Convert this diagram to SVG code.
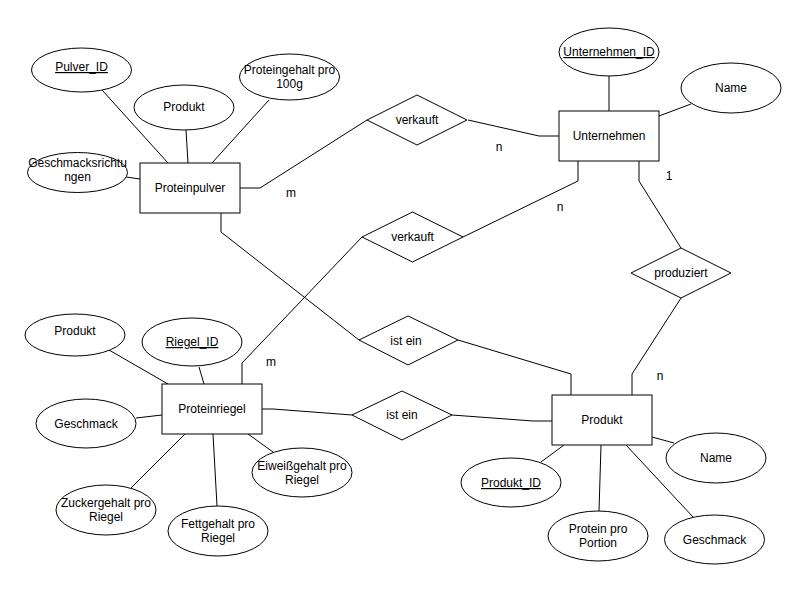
<svg xmlns="http://www.w3.org/2000/svg" width="807" height="591" viewBox="0 0 807 591">
<style>
.e{fill:#fff;stroke:#000;stroke-width:1}
.r{fill:#fff;stroke:#000;stroke-width:1}
.c{fill:none;stroke:#000;stroke-width:1}
text{font-family:"Liberation Sans",Arial,Helvetica,sans-serif;font-size:12px;fill:#000;text-anchor:middle}
.u{text-decoration:underline}
</style>
<rect width="807" height="591" fill="#fff"/>
<g id="connectors">
<path class="c" d="M102 90L168 163"/>
<path class="c" d="M186 130L188 163"/>
<path class="c" d="M269 100L212 163"/>
<path class="c" d="M126 177L140 179"/>
<path class="c" d="M240 188H260L367 120"/>
<path class="c" d="M468 120L539 136H559"/>
<path class="c" d="M609 76V111"/>
<path class="c" d="M691 104L659 116"/>
<path class="c" d="M578 161V181L463 237"/>
<path class="c" d="M639 161V181L681 248"/>
<path class="c" d="M362 237L242 363V384"/>
<path class="c" d="M221 213V232L359 340"/>
<path class="c" d="M458 340L571 374V395"/>
<path class="c" d="M681 298L632 374V395"/>
<path class="c" d="M262 409H273L352 415"/>
<path class="c" d="M452 415L533 421H552"/>
<path class="c" d="M109 350L168 384"/>
<path class="c" d="M199 367L204 384"/>
<path class="c" d="M136 418L162 415"/>
<path class="c" d="M131 488L185 434"/>
<path class="c" d="M217 506L213 434"/>
<path class="c" d="M273 452L248 434"/>
<path class="c" d="M541 462L564 445"/>
<path class="c" d="M599 511L601 445"/>
<path class="c" d="M693 517L626 445"/>
<path class="c" d="M674 443L652 437"/>
</g>
<g id="labels">
<text x="291" y="197">m</text>
<text x="499" y="151">n</text>
<text x="669" y="180">1</text>
<text x="560" y="211">n</text>
<text x="271" y="366">m</text>
<text x="660" y="380">n</text>
</g>
<g id="Proteinpulver"><rect class="r" x="140" y="163" width="100" height="50"/><text x="190" y="192">Proteinpulver</text></g>
<g id="Pulver_ID"><ellipse class="e" cx="81.5" cy="70" rx="50" ry="22"/><text class="u" x="81.5" y="71">Pulver_ID</text></g>
<g id="Pulver_Produkt"><ellipse class="e" cx="184" cy="107.5" rx="50" ry="22.5"/><text x="184" y="111">Produkt</text></g>
<g id="Proteingehalt"><ellipse class="e" cx="289.5" cy="77" rx="50" ry="23"/><text x="289.5" y="74">Proteingehalt pro</text><text x="289.5" y="88">100g</text></g>
<g id="Geschmacksrichtungen"><ellipse class="e" cx="77.5" cy="172.5" rx="50" ry="20"/><text x="77.5" y="167">Geschmacksrichtu</text><text x="77.5" y="181">ngen</text></g>
<g id="Unternehmen"><rect class="r" x="559" y="111" width="100" height="50"/><text x="609" y="140">Unternehmen</text></g>
<g id="Unternehmen_ID"><ellipse class="e" cx="609" cy="52" rx="50" ry="24"/><text class="u" x="609" y="56">Unternehmen_ID</text></g>
<g id="Unternehmen_Name"><ellipse class="e" cx="731" cy="88" rx="50" ry="25"/><text x="731" y="92">Name</text></g>
<g id="verkauft1"><path class="r" d="M367 120L417 95L467 120L417 145Z"/><text x="417" y="124">verkauft</text></g>
<g id="verkauft2"><path class="r" d="M362 237L412.5 212L463 237L412.5 262Z"/><text x="412.5" y="241">verkauft</text></g>
<g id="produziert"><path class="r" d="M631 273L681 248L731 273L681 298Z"/><text x="681" y="277">produziert</text></g>
<g id="istein1"><path class="r" d="M359 340L408 316L458 340L408 365Z"/><text x="406" y="345">ist ein</text></g>
<g id="istein2"><path class="r" d="M352 415L402 391L452 415L402 440Z"/><text x="402" y="419">ist ein</text></g>
<g id="Proteinriegel"><rect class="r" x="162" y="384" width="100" height="50"/><text x="212" y="413">Proteinriegel</text></g>
<g id="Riegel_Produkt"><ellipse class="e" cx="75" cy="335" rx="50" ry="21"/><text x="75" y="335">Produkt</text></g>
<g id="Riegel_ID"><ellipse class="e" cx="192" cy="342" rx="50" ry="24"/><text class="u" x="192" y="346">Riegel_ID</text></g>
<g id="Riegel_Geschmack"><ellipse class="e" cx="86" cy="423.5" rx="50" ry="24.5"/><text x="86" y="428">Geschmack</text></g>
<g id="Zuckergehalt"><ellipse class="e" cx="106" cy="510" rx="50" ry="25"/><text x="106" y="507">Zuckergehalt pro</text><text x="106" y="521">Riegel</text></g>
<g id="Fettgehalt"><ellipse class="e" cx="218" cy="531" rx="50" ry="25"/><text x="218" y="528">Fettgehalt pro</text><text x="218" y="542">Riegel</text></g>
<g id="Eiweissgehalt"><ellipse class="e" cx="302" cy="472.5" rx="50" ry="24.5"/><text x="302" y="470">Eiweißgehalt pro</text><text x="302" y="484">Riegel</text></g>
<g id="Produkt"><rect class="r" x="552" y="395" width="100" height="50"/><text x="602" y="424">Produkt</text></g>
<g id="Produkt_ID"><ellipse class="e" cx="511" cy="482.5" rx="50" ry="24.5"/><text class="u" x="511" y="487">Produkt_ID</text></g>
<g id="ProteinProPortion"><ellipse class="e" cx="598" cy="536" rx="50" ry="25"/><text x="598" y="533">Protein pro</text><text x="598" y="547">Portion</text></g>
<g id="Produkt_Geschmack"><ellipse class="e" cx="714.5" cy="539.5" rx="50" ry="24.5"/><text x="714.5" y="544">Geschmack</text></g>
<g id="Produkt_Name"><ellipse class="e" cx="716" cy="458" rx="50" ry="25"/><text x="716" y="462">Name</text></g>
</svg>
